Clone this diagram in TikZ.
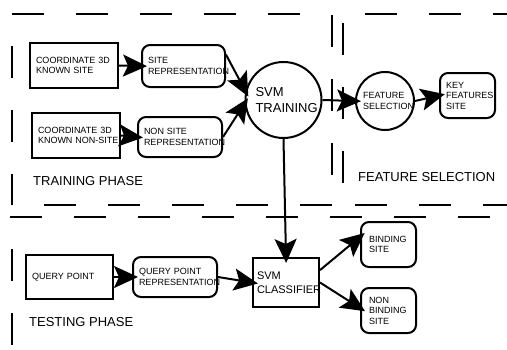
\documentclass[tikz,border=0pt]{standalone}
\usepackage{fontspec}
\setmainfont{Liberation Sans}
\usetikzlibrary{arrows.meta}

\tikzset{
  box/.style={draw, line width=2pt, align=left, inner xsep=6pt, inner ysep=2pt,
    font=\fontsize{9}{10.5}\selectfont},
  rbox/.style={box, rounded corners=8pt},
  disc/.style={draw, circle, line width=2pt, align=left, inner sep=0pt},
  phase/.style={anchor=west, inner sep=0pt, font=\fontsize{13}{15}\selectfont},
  flow/.style={line width=2pt, -{Stealth[length=24pt,width=22pt,inset=5pt]}, shorten >=-6pt},
  border/.style={line width=2pt, dash pattern=on 32pt off 32pt},
}

\begin{document}
\begin{tikzpicture}[x=1pt,y=-1pt]
\useasboundingbox (0,0) rectangle (507,349);

% Phase borders
\draw[border] (12,14) -- (300,14);
\draw[border] (365,14) -- (507,14);
\draw[border] (12,46) -- (12,205);
\draw[border] (12,249) -- (12,349);
\draw[border] (332,15) -- (332,176);
\draw[border] (343,23) -- (343,184);
\draw[border] (44,205) -- (332,205);
\draw[border] (355,205) -- (507,205);
\draw[border] (10,217) -- (491,217);

% Training
\node[box, text width=76pt, minimum height=45pt] (site3d) at (74,65.5) {COORDINATE 3D\\KNOWN SITE};
\node[rbox, text width=71pt, minimum height=42pt] (siterep) at (183.5,66) {SITE\\REPRESENTATION};
\node[box, text width=76pt, minimum height=45pt] (nonsite3d) at (76,135.5) {COORDINATE 3D\\\mbox{KNOWN NON-SITE}};
\node[rbox, text width=72pt, minimum height=40pt] (nonsiterep) at (180,137) {NON SITE\\REPRESENTATION};
\node[disc, text width=56pt, minimum size=76pt, font=\fontsize{13}{16}\selectfont] (svmtrain) at (283.5,100) {SVM\\TRAINING};
\node[phase] (trainlabel) at (33,181) {TRAINING PHASE};

% Feature selection
\node[disc, text width=44pt, minimum size=58pt, font=\fontsize{9}{10.5}\selectfont] (featsel) at (385,101) {FEATURE\\SELECTION};
\node[rbox, text width=43pt, minimum height=45pt] (keyfeat) at (467.5,95.5) {KEY\\FEATURES\\SITE};
\node[phase] (featlabel) at (358,177) {FEATURE SELECTION};

% Testing
\node[box, text width=75pt, minimum height=44pt] (query) at (69.5,277) {QUERY POINT};
\node[rbox, text width=72pt, minimum height=40pt] (queryrep) at (175,277) {QUERY POINT\\REPRESENTATION};
\node[box, inner xsep=4pt, text width=58pt, minimum height=49pt, font=\fontsize{11}{14}\selectfont] (classifier) at (286,282.5) {SVM\\CLASSIFIER};
\node[rbox, inner xsep=8pt, text width=39pt, minimum height=45pt] (binding) at (388.5,244.5) {BINDING\\SITE};
\node[rbox, inner xsep=8pt, text width=39pt, minimum height=45pt] (nonbinding) at (388.5,310.5) {NON\\BINDING\\SITE};
\node[phase] (testlabel) at (29,322) {TESTING PHASE};

% Arrows
\draw[flow] (site3d.east) -- (siterep.west);
\draw[flow] (nonsite3d.east) -- (nonsiterep.west);
\draw[flow] (siterep.15) -- (svmtrain.167);
\draw[flow] (nonsiterep.east) -- (svmtrain.185);
\draw[flow] (svmtrain.east) -- (featsel.west);
\draw[flow] (featsel.east) -- (keyfeat.west);
\draw[flow] (svmtrain.south) -- (classifier.north);
\draw[flow] (query.east) -- (queryrep.west);
\draw[flow] (queryrep.east) -- (classifier.west);
\draw[flow] (classifier.20) -- (binding.165);
\draw[flow] (classifier.east) -- (nonbinding.175);

\end{tikzpicture}
\end{document}
